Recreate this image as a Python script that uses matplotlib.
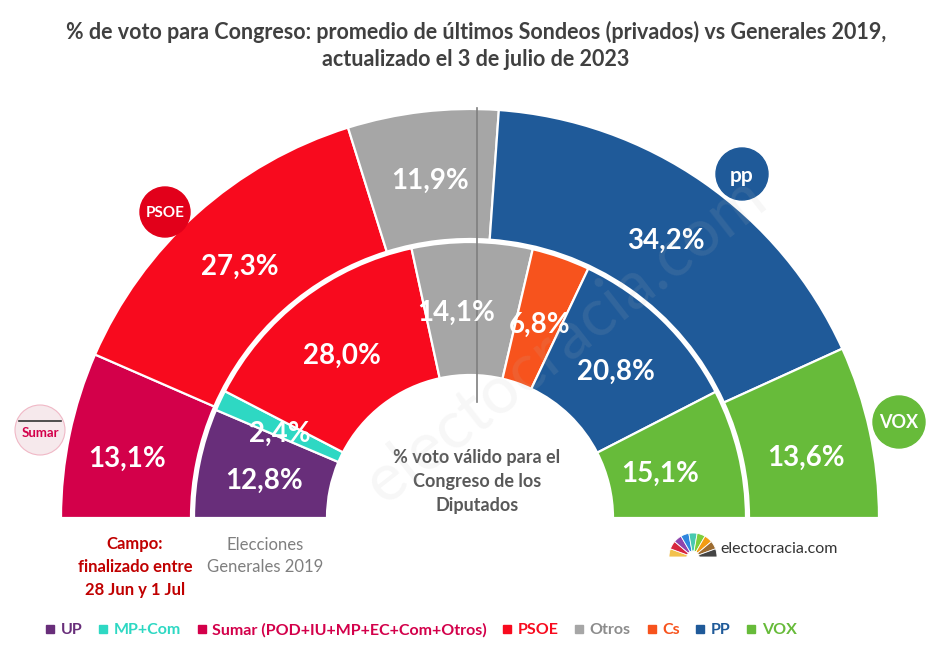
import numpy as np
import matplotlib
matplotlib.use("Agg")
import matplotlib.pyplot as plt
from matplotlib.patches import Circle, Wedge
from matplotlib.lines import Line2D

plt.rcParams['font.family'] = ['Lato', 'DejaVu Sans']

# polls average (outer ring) vs 2019 general election (inner ring)
outer_parties = ['Sumar', 'PSOE', 'Otros', 'PP', 'VOX']
outer_vals = [13.1, 27.3, 11.9, 34.2, 13.6]
inner_parties = ['UP', 'MP+Com', 'PSOE', 'Otros', 'Cs', 'PP', 'VOX']
inner_vals = [12.8, 2.4, 28.0, 14.1, 6.8, 20.8, 15.1]

legend_parties = ['UP', 'MP+Com', 'Sumar', 'PSOE', 'Otros', 'Cs', 'PP', 'VOX']
legend_labels = ['UP', 'MP+Com', 'Sumar (POD+IU+MP+EC+Com+Otros)', 'PSOE',
                 'Otros', 'Cs', 'PP', 'VOX']

colors = {
    'UP': '#682E7A', 'MP+Com': '#2ED8C3', 'Sumar': '#D3004A',
    'PSOE': '#F80A1E', 'Otros': '#A6A6A6', 'Cs': '#F7531D',
    'PP': '#1F5A99', 'VOX': '#67BB3A',
}
legend_text_colors = {
    'UP': '#682E7A', 'MP+Com': '#2ED8C3', 'Sumar': '#D3004A',
    'PSOE': '#F80A1E', 'Otros': '#8C8C8C', 'Cs': '#F7531D',
    'PP': '#1F5A99', 'VOX': '#67BB3A',
}

W, H = 940, 650
cx, cy = 470, H - 518   # centre of the half doughnut, pixel coords (y up)

fig = plt.figure(figsize=(9.4, 6.5), dpi=100)
ax = fig.add_axes([0, 0, 1, 1])


def half_ring(vals, parties, r_out, r_in):
    cols = [colors[p] for p in parties] + ['none']
    wedges, _ = ax.pie(vals + [sum(vals)], radius=r_out, center=(cx, cy),
                       startangle=180, counterclock=False, colors=cols,
                       wedgeprops=dict(width=r_out - r_in, edgecolor='white',
                                       linewidth=1.6))
    wedges[-1].set_visible(False)
    return wedges[:-1]


outer_w = half_ring(outer_vals, outer_parties, 409, 279)
inner_w = half_ring(inner_vals, inner_parties, 276, 143)

ax.set_xlim(0, W)
ax.set_ylim(0, H)
ax.axis('off')


def fmt(v):
    return f"{v:.1f}".replace('.', ',') + '%'


# nudges for a couple of crowded labels (pixels)
nudge = {('in', 'Otros'): (-16, 0), ('in', 'VOX'): (-14, 0),
         ('out', 'VOX'): (0, -8), ('out', 'Sumar'): (-6, -6)}

for tag, wedges, vals, parties, r in [('out', outer_w, outer_vals, outer_parties, 344),
                                      ('in', inner_w, inner_vals, inner_parties, 210)]:
    for w, v, p in zip(wedges, vals, parties):
        a = np.deg2rad((w.theta1 + w.theta2) / 2)
        dx, dy = nudge.get((tag, p), (0, 0))
        ax.text(cx + r * np.cos(a) + dx, cy + r * np.sin(a) - 5 + dy, fmt(v),
                ha='center', va='center', color='white', fontsize=20,
                fontweight='bold', zorder=5)

# vertical reference line
ax.plot([477, 477], [H - 108, H - 402], color='#7F7F7F', lw=1.2, zorder=4)

# watermark
ax.text(565, H - 340, 'electocracia.com', rotation=38, ha='center', va='center',
        fontsize=48, color='#BBBBBB', alpha=0.12, zorder=6)

# party logos
ax.add_patch(Circle((165, H - 212), 25, color='#E2001A', zorder=3))
ax.text(165, H - 213, 'PSOE', ha='center', va='center', color='white',
        fontsize=11, fontweight='bold', zorder=4)
ax.add_patch(Circle((742, H - 174), 26, color='#1F5A99', zorder=3))
ax.text(742, H - 176, 'pp', ha='center', va='center', color='white',
        fontsize=15, fontweight='bold', zorder=4)
ax.add_patch(Circle((899, H - 422), 26, color='#67BB3A', zorder=3))
ax.text(899, H - 423, 'VOX', ha='center', va='center', color='white',
        fontsize=13, fontweight='bold', zorder=4)
ax.add_patch(Circle((40, H - 430), 25, facecolor='#F6E9EC', edgecolor='#F0B8C6',
                    lw=0.8, zorder=3))
ax.plot([19, 61], [H - 421, H - 421], color='#333333', lw=1.2, zorder=4)
ax.text(40, H - 433, 'Sumar', ha='center', va='center', color='#D3004A',
        fontsize=9.5, fontweight='bold', zorder=4)

# title
fig.text(476 / W, 1 - 32 / H,
         '% de voto para Congreso: promedio de últimos Sondeos (privados) vs Generales 2019,',
         ha='center', va='center', fontsize=15.5, fontweight='bold', color='#404040')
fig.text(476 / W, 1 - 60 / H, 'actualizado el 3 de julio de 2023',
         ha='center', va='center', fontsize=15.5, fontweight='bold', color='#404040')

# centre annotation
ax.text(477, H - 482, '% voto válido para el\nCongreso de los\nDiputados',
        ha='center', va='center', fontsize=13, fontweight='bold',
        color='#595959', linespacing=1.5)

ax.text(135, H - 567, 'Campo:\nfinalizado entre\n28 Jun y 1 Jul', ha='center',
        va='center', fontsize=12, fontweight='bold', color='#C00000',
        linespacing=1.5)
ax.text(265, H - 556, 'Elecciones\nGenerales 2019', ha='center', va='center',
        fontsize=12, color='#7F7F7F', linespacing=1.5)

# small site logo bottom-right
logo_cols = ['#F2C14E', '#D7263D', '#8E44AD', '#2E86DE', '#48C9B0', '#7DCE3C',
             '#F39C12', '#9C6B30', '#444444']
n = len(logo_cols)
for i, c in enumerate(logo_cols):
    t1 = 180 - (i + 1) * 180 / n
    ax.add_patch(Wedge((693, H - 557), 24, t1, t1 + 180 / n, width=18,
                       facecolor=c, edgecolor='white', lw=0.6))
ax.text(720, H - 549, 'electocracia.com', ha='left', va='center', fontsize=11.5,
        color='#333333')

# legend
handles = [Line2D([], [], marker='s', ls='none', markersize=6,
                  color=colors[p]) for p in legend_parties]
leg = fig.legend(handles, legend_labels, loc='center',
                 bbox_to_anchor=(421 / W, 1 - 630 / H), ncol=8, frameon=False,
                 handlelength=0.6, handletextpad=0.35, columnspacing=1.0,
                 prop=dict(size=11.5, weight='bold'))
for txt, p in zip(leg.get_texts(), legend_parties):
    txt.set_color(legend_text_colors[p])

fig.savefig('out.png', dpi=100)
